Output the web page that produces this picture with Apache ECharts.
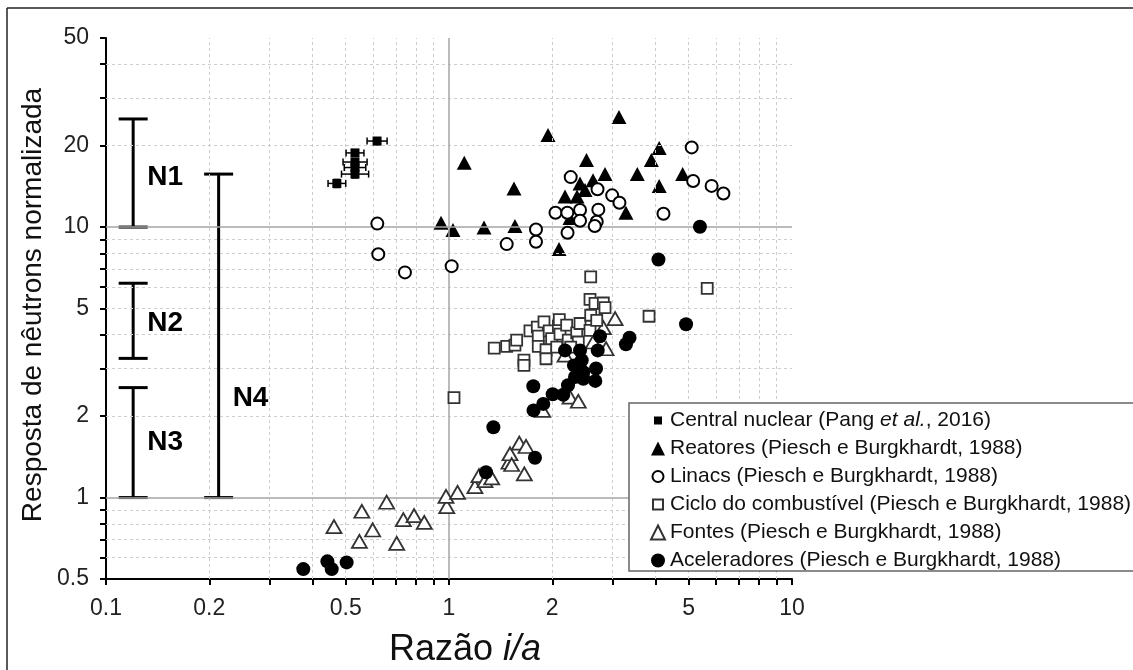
<!DOCTYPE html>
<html>
<head>
<meta charset="utf-8">
<script src="https://cdn.jsdelivr.net/npm/echarts@6/dist/echarts.min.js"></script>
<style>html,body{margin:0;padding:0;background:#fff;}#c{width:1133px;height:670px;}</style>
</head>
<body>
<div id="c"></div>
<script>
// ---- Data ----
const cnX   = [0.471, 0.532, 0.532, 0.532, 0.532, 0.617];
const cnY   = [14.5, 15.7, 16.6, 17.4, 18.8, 20.8];
const cnXLo = [0.444, 0.486, 0.495, 0.491, 0.501, 0.577];
const cnXHi = [0.500, 0.583, 0.572, 0.577, 0.565, 0.660];
const cnYLo = [14.0, 15.2, 16.2, 17.0, 18.3, 20.2];
const cnYHi = [15.0, 16.2, 17.0, 17.8, 19.3, 21.4];

const reX = [0.948,1.027,1.108,1.265,1.547,1.557,1.944,2.093,2.179,2.362,2.41,2.492,2.63,2.517,2.85,2.253,3.13,3.28,3.54,3.89,4.10,4.10,4.80];
const reY = [10.37,9.75,17.3,9.97,13.9,10.1,21.9,8.29,12.97,12.97,14.5,13.7,14.9,17.7,15.7,10.8,25.5,11.3,15.7,17.7,19.6,14.2,15.7];

const liX = [0.618,0.622,0.744,1.018,1.473,1.793,1.793,2.044,2.213,2.264,2.41,2.41,2.216,2.71,2.725,2.696,2.66,2.99,3.14,4.22,5.10,5.15,5.83,6.31];
const liY = [10.3,7.94,6.80,7.17,8.65,9.80,8.82,11.3,11.3,15.3,11.56,10.55,9.53,13.8,11.6,10.46,10.09,13.1,12.3,11.2,19.7,14.8,14.2,13.3];

const ccX = [1.034,1.355,1.473,1.557,1.575,1.654,1.654,1.722,1.809,1.821,1.821,1.892,1.918,1.918,1.96,1.992,2.061,2.084,2.097,2.107,2.203,2.227,2.357,2.382,2.41,2.577,2.589,2.696,2.577,2.665,2.818,2.85,2.589,3.83,5.66,2.264];
const ccY = [2.34,3.57,3.62,3.66,3.82,3.22,3.08,4.13,4.27,3.95,3.62,4.46,3.52,3.26,4.13,3.87,3.60,4.30,4.55,4.02,4.34,3.82,4.06,3.76,4.40,4.15,4.72,4.52,5.40,5.22,5.24,5.04,6.54,4.68,5.93,3.60];

const foX = [0.462,0.548,0.557,0.599,0.658,0.704,0.736,0.791,0.847,0.985,0.980,1.059,1.19,1.223,1.273,1.332,1.496,1.506,1.523,1.603,1.677,1.658,1.876,2.253,2.382,3.05,2.818,2.87,2.634,2.179];
const foY = [0.781,0.689,0.890,0.759,0.961,0.677,0.829,0.858,0.810,0.926,1.01,1.046,1.098,1.206,1.156,1.183,1.351,1.452,1.325,1.589,1.545,1.224,2.10,2.35,2.27,4.59,4.25,3.55,3.76,3.36];

const acX = [0.376,0.442,0.455,0.503,1.282,1.347,1.781,1.764,1.883,1.761,2.006,2.154,2.223,2.33,2.464,2.67,2.683,2.464,2.314,2.437,2.41,2.179,2.714,2.755,3.28,3.36,4.08,4.91,5.39];
const acY = [0.544,0.581,0.544,0.576,1.241,1.82,1.403,2.10,2.22,2.58,2.41,2.40,2.60,2.79,2.75,2.70,3.00,2.91,3.08,3.22,3.50,3.50,3.50,3.95,3.69,3.90,7.59,4.37,10.03];

const brName   = ['N1','N2','N3','N4'];
const brX      = [0.12, 0.12, 0.12, 0.213];
const brLo     = [10, 3.27, 1, 1];
const brHi     = [25.1, 6.2, 2.55, 15.7];
const brLabelY = [15.3, 4.41, 1.6, 2.33];

const xTickVals  = [0.1,0.2,0.3,0.4,0.5,0.6,0.7,0.8,0.9,1,2,3,4,5,6,7,8,9,10];
const xLabelVals = [0.1,0.2,0.5,1,2,5,10];
const yTickVals  = [0.5,0.6,0.7,0.8,0.9,1,2,3,4,5,6,7,8,9,10,20,30,40,50];
const yLabelVals = [0.5,1,2,5,10,20,50];
const xGridVals  = [0.2,0.3,0.4,0.5,0.6,0.7,0.8,0.9,2,3,4,5,6,7,8,9];
const yGridVals  = [0.6,0.7,0.8,0.9,2,3,4,5,6,7,8,9,20,30,40];
const xRefVals   = [1];
const yRefVals   = [1,10];

const names = [
  'Central nuclear (Pang et al., 2016)',
  'Reatores (Piesch e Burgkhardt, 1988)',
  'Linacs (Piesch e Burgkhardt, 1988)',
  'Ciclo do combustível (Piesch e Burgkhardt, 1988)',
  'Fontes (Piesch e Burgkhardt, 1988)',
  'Aceleradores (Piesch e Burgkhardt, 1988)'
];

// ---- Build ----
const FONT = 'Liberation Sans, Arial, Helvetica, sans-serif';
function zip(a, b) { return a.map((v, i) => [v, b[i]]); }
function fmt(v) { return String(+(+v).toPrecision(3)); }

const chart = echarts.init(document.getElementById('c'), null, {renderer: 'canvas'});

const option = {
  backgroundColor: '#fff',
  animation: false,
  grid: {left: 106, top: 38, width: 686, height: 541},
  xAxis: {
    type: 'log', logBase: 10, min: 0.1, max: 10,
    axisLine: {show: true, lineStyle: {color: '#000', width: 2}},
    axisTick: {show: true, customValues: xTickVals, length: 6, lineStyle: {color: '#000', width: 2}},
    axisLabel: {customValues: xLabelVals, formatter: fmt, margin: 18, fontSize: 23, color: '#222', fontFamily: FONT},
    splitLine: {show: false}
  },
  yAxis: {
    type: 'log', logBase: 10, min: 0.5, max: 50,
    axisLine: {show: true, lineStyle: {color: '#000', width: 2}},
    axisTick: {show: true, customValues: yTickVals, length: 6, lineStyle: {color: '#000', width: 2}},
    axisLabel: {customValues: yLabelVals, formatter: fmt, margin: 17, fontSize: 23, color: '#222', fontFamily: FONT},
    splitLine: {show: false}
  },
  legend: {
    orient: 'vertical', left: 629, top: 403, z: 30, zlevel: 0,
    itemWidth: 14, itemHeight: 14, itemGap: 7,
    padding: [7, 10, 0, 21],
    borderColor: '#666', borderWidth: 1.5, backgroundColor: '#fff',
    data: [
      {name: names[0], icon: 'path://M0,0M14,14M3,3h8v8h-8z'},
      {name: names[1], icon: 'triangle'},
      {name: names[2], icon: 'path://M0,0M14,14M7,1.5A5.5,5.5,0,1,1,6.99,1.5z'},
      {name: names[3], icon: 'path://M0,0M14,14M2,2h10v10h-10z'},
      {name: names[4], icon: 'triangle'},
      {name: names[5], icon: 'circle'}
    ],
    formatter: function (n) {
      if (n.indexOf('et al.') >= 0) return '{n|Central nuclear (Pang }{i|et al.}{n|, 2016)}';
      return '{n|' + n + '}';
    },
    textStyle: {
      color: '#111', fontFamily: FONT, fontSize: 21,
      rich: {
        n: {fontSize: 21, fontFamily: FONT, color: '#111', lineHeight: 21},
        i: {fontSize: 21, fontFamily: FONT, color: '#111', fontStyle: 'italic', lineHeight: 21}
      }
    }
  },
  graphic: [
    {type: 'line', shape: {x1: 7, y1: 8, x2: 7, y2: 670}, style: {stroke: '#222', lineWidth: 1.5}, silent: true},
    {type: 'line', shape: {x1: 7, y1: 8, x2: 1133, y2: 8}, style: {stroke: '#222', lineWidth: 1.5}, silent: true},
    {type: 'text', x: 465, y: 650, silent: true,
     style: {text: '{n|Razão }{i|i/a}', align: 'center', verticalAlign: 'middle', fill: '#111',
             rich: {n: {fontSize: 36, fontFamily: FONT, fill: '#111'}, i: {fontSize: 36, fontFamily: FONT, fontStyle: 'italic', fill: '#111'}}}},
    {type: 'text', x: 33, y: 305, rotation: Math.PI / 2, silent: true,
     style: {text: 'Resposta de nêutrons normalizada', align: 'center', verticalAlign: 'middle', fill: '#111', fontSize: 28, fontFamily: FONT}}
  ],
  series: [
    {
      name: '_grid', type: 'line', data: [], silent: true, z: 1,
      markLine: {
        silent: true, symbol: ['none', 'none'], label: {show: false},
        lineStyle: {color: '#cdcdcd', type: [3, 3], width: 1},
        emphasis: {disabled: true},
        data: xGridVals.map(v => ({xAxis: v})).concat(yGridVals.map(v => ({yAxis: v})))
      }
    },
    {
      name: '_ref', type: 'line', data: [], silent: true, z: 1,
      markLine: {
        silent: true, symbol: ['none', 'none'], label: {show: false},
        lineStyle: {color: '#a5a5a5', type: 'solid', width: 1.5},
        emphasis: {disabled: true},
        data: xRefVals.map(v => ({xAxis: v})).concat(yRefVals.map(v => ({yAxis: v})))
      }
    },
    {
      name: '_brackets', type: 'custom', silent: true, z: 3,
      data: brX.map((x, i) => [x, brLo[i], brHi[i], brLabelY[i]]),
      encode: {x: 0, y: [1, 2]},
      renderItem: function (params, api) {
        const x = api.value(0);
        const pLo = api.coord([x, api.value(1)]);
        const pHi = api.coord([x, api.value(2)]);
        const pL = api.coord([x, api.value(3)]);
        const w = 14.5;
        const st = {stroke: '#000', lineWidth: 3};
        return {type: 'group', children: [
          {type: 'line', shape: {x1: pLo[0], y1: pLo[1], x2: pHi[0], y2: pHi[1]}, style: st},
          {type: 'line', shape: {x1: pLo[0] - w, y1: pLo[1], x2: pLo[0] + w, y2: pLo[1]}, style: st},
          {type: 'line', shape: {x1: pHi[0] - w, y1: pHi[1], x2: pHi[0] + w, y2: pHi[1]}, style: st},
          {type: 'text', x: pL[0] + 14, y: pL[1],
           style: {text: brName[params.dataIndex], fontSize: 28, fontWeight: 'bold', fontFamily: FONT,
                   fill: '#000', align: 'left', verticalAlign: 'middle'}}
        ]};
      }
    },
    {
      name: names[1], type: 'scatter', z: 4, data: zip(reX, reY),
      symbol: 'triangle', symbolSize: [15, 14],
      itemStyle: {color: '#000', borderColor: '#000', borderWidth: 0, opacity: 1}
    },
    {
      name: names[2], type: 'scatter', z: 5, data: zip(liX, liY),
      symbol: 'circle', symbolSize: 12,
      itemStyle: {color: '#fff', borderColor: '#000', borderWidth: 2, opacity: 1}
    },
    {
      name: names[4], type: 'scatter', z: 5, data: zip(foX, foY),
      symbol: 'triangle', symbolSize: [15, 13],
      itemStyle: {color: '#fff', borderColor: '#333', borderWidth: 1.8, opacity: 1}
    },
    {
      name: names[3], type: 'scatter', z: 6, data: zip(ccX, ccY),
      symbol: 'rect', symbolSize: 11,
      itemStyle: {color: '#fff', borderColor: '#333', borderWidth: 1.8, opacity: 1}
    },
    {
      name: names[5], type: 'scatter', z: 7, data: zip(acX, acY),
      symbol: 'circle', symbolSize: 14,
      itemStyle: {color: '#000', borderColor: '#000', borderWidth: 0, opacity: 1}
    },
    {
      name: '_errbars', type: 'custom', silent: true, z: 8,
      data: cnX.map((x, i) => [x, cnY[i], cnXLo[i], cnXHi[i], cnYLo[i], cnYHi[i]]),
      encode: {x: 0, y: 1},
      renderItem: function (params, api) {
        const y = api.value(1), x = api.value(0);
        const a = api.coord([api.value(2), y]);
        const b = api.coord([api.value(3), y]);
        const c = api.coord([x, api.value(4)]);
        const d = api.coord([x, api.value(5)]);
        const st = {stroke: '#000', lineWidth: 1.5};
        const h = 3.5;
        return {type: 'group', children: [
          {type: 'line', shape: {x1: a[0], y1: a[1], x2: b[0], y2: b[1]}, style: st},
          {type: 'line', shape: {x1: a[0], y1: a[1] - h, x2: a[0], y2: a[1] + h}, style: st},
          {type: 'line', shape: {x1: b[0], y1: b[1] - h, x2: b[0], y2: b[1] + h}, style: st},
          {type: 'line', shape: {x1: c[0], y1: c[1], x2: d[0], y2: d[1]}, style: st},
          {type: 'line', shape: {x1: c[0] - h, y1: c[1], x2: c[0] + h, y2: c[1]}, style: st},
          {type: 'line', shape: {x1: d[0] - h, y1: d[1], x2: d[0] + h, y2: d[1]}, style: st}
        ]};
      }
    },
    {
      name: names[0], type: 'scatter', z: 9, data: zip(cnX, cnY),
      symbol: 'rect', symbolSize: 9,
      itemStyle: {color: '#000', borderColor: '#000', borderWidth: 0, opacity: 1}
    }
  ]
};
chart.setOption(option);
</script>
</body>
</html>
